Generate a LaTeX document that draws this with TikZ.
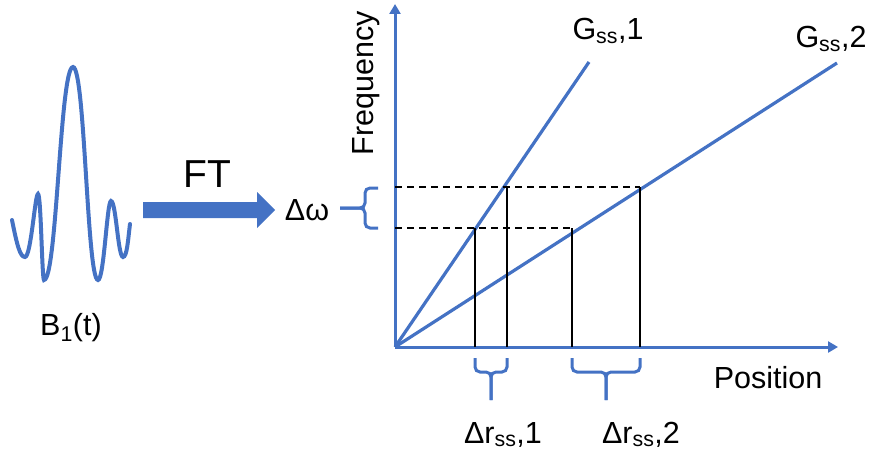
\documentclass[tikz,border=0pt]{standalone}
\usepackage{fontspec}
\setmainfont{Liberation Sans}
\usetikzlibrary{arrows.meta}
\definecolor{pptblue}{HTML}{4472C4}

\begin{document}
\begin{tikzpicture}[x=1pt,y=-1pt]
	\tikzset{axis/.style={pptblue,line width=3pt,-{Triangle[length=10pt,width=11pt]}},
		grad/.style={pptblue,line width=3.2pt},
		slice/.style={black,line width=2pt},
		level/.style={black,line width=1.6pt,dash pattern=on 7pt off 5pt},
		curly/.style={pptblue,line width=3pt,rounded corners=5pt},
		lbl/.style={inner sep=0pt,font=\fontsize{30.5}{36}\selectfont}}
	\useasboundingbox (0,0) rectangle (869,457);
	% pulse
	\draw[grad,line width=4pt,line cap=round] (12,220) .. controls (17,245) and (20,257) .. (25,257)
		.. controls (31,257) and (35,194) .. (38,194) .. controls (41,194) and (42,280) .. (44,280)
		.. controls (57,280) and (60,67) .. (73,67) .. controls (85,67) and (87,280) .. (98,280)
		.. controls (104,280) and (107,201) .. (111,201) .. controls (116,201) and (118,257) .. (123,257)
		.. controls (127,257) and (128,240) .. (130,224);
	\node[lbl,anchor=base] (pulse) at (71,335) {B\textsubscript{1}(t)};
	% FT arrow
	\fill[pptblue] (143,202) -- (257,202) -- (257,192) -- (275,210) -- (257,228) -- (257,218) -- (143,218) -- cycle;
	\node[lbl,font=\fontsize{39}{45}\selectfont,anchor=base] (ft) at (207,187) {FT};
	% axes
	\coordinate (o) at (395,347);
	\coordinate (ytop) at (395,4);
	\coordinate (xend) at (838,347);
	\draw[axis] (o) -- (ytop);
	\draw[axis] (o) -- (xend);
	\node[lbl,rotate=90,anchor=base] (freq) at (373,83) {Frequency};
	\node[lbl,anchor=base] (pos) at (768,388) {Position};
	% gradients
	\coordinate (g1) at (589,62);
	\coordinate (g2) at (837,63);
	\draw[grad] (o) -- (g1);
	\draw[grad] (o) -- (g2);
	\node[lbl,anchor=base] (gone) at (608,40) {G\textsubscript{ss},1};
	\node[lbl,anchor=base] (gtwo) at (831,48) {G\textsubscript{ss},2};
	% band
	\coordinate (hi) at (395,187);
	\coordinate (lo) at (395,228);
	\coordinate (a1) at (475,228);
	\coordinate (b1) at (507,187);
	\coordinate (a2) at (572,228);
	\coordinate (b2) at (640,187);
	\draw[level] (hi) -- (b2);
	\draw[level] (lo) -- (a2);
	\foreach \p in {a1,b1,a2,b2}
		\draw[slice] (\p) -- (\p |- o);
	% braces
	\node[lbl,anchor=base] (dw) at (307,220) {Δω};
	\draw[curly] (378,188) -- (365,188) -- (365,208) -- (340,208);
	\draw[curly] (378,228) -- (365,228) -- (365,208) -- (340,208);
	\draw[curly] (475,358) -- (475,372) -- (491,372) -- (491,400);
	\draw[curly] (507,358) -- (507,372) -- (491,372) -- (491,400);
	\draw[curly] (572,358) -- (572,372) -- (606,372) -- (606,400);
	\draw[curly] (640,358) -- (640,372) -- (606,372) -- (606,400);
	\node[lbl,anchor=base] (drone) at (503,443) {Δr\textsubscript{ss},1};
	\node[lbl,anchor=base] (drtwo) at (641,443) {Δr\textsubscript{ss},2};
\end{tikzpicture}
\end{document}
